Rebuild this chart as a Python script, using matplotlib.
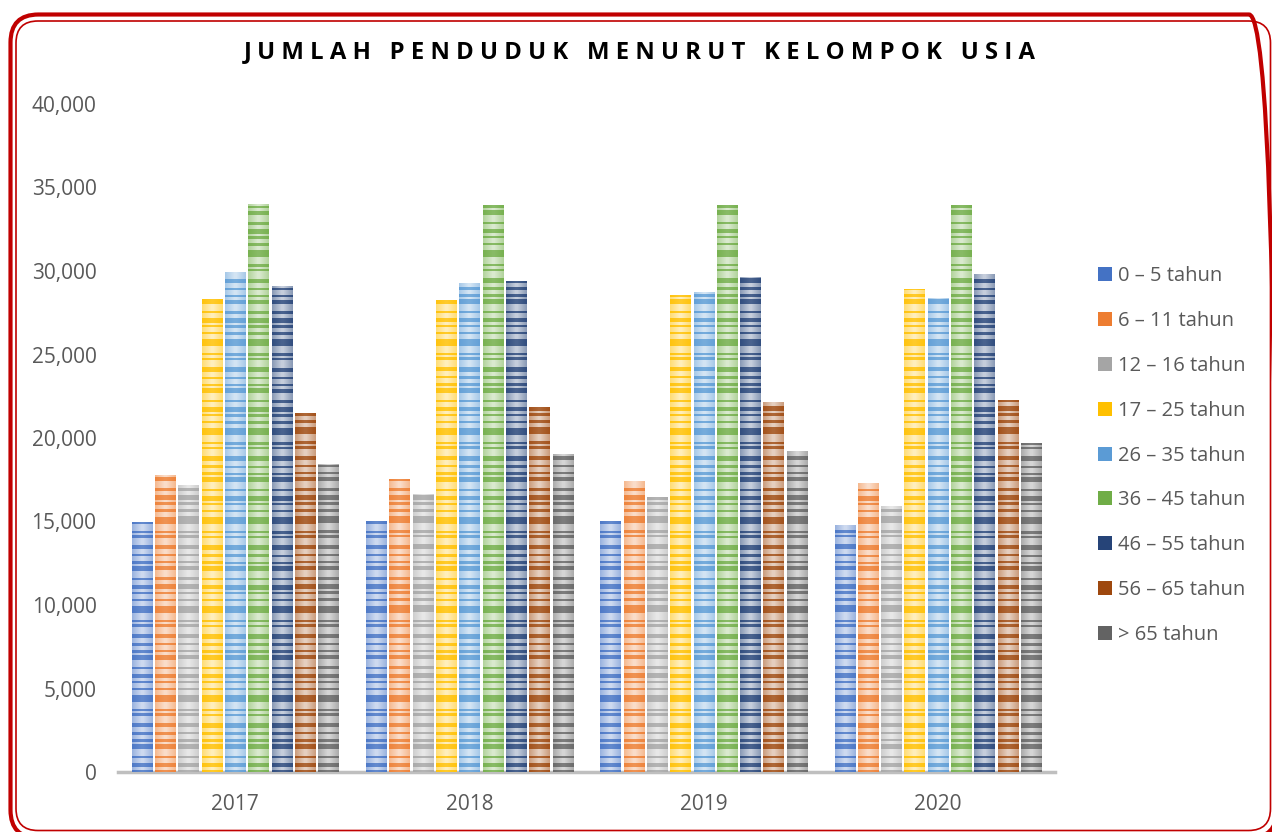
import numpy as np
import matplotlib
matplotlib.use("Agg")
import matplotlib.pyplot as plt
from matplotlib.patches import FancyBboxPatch, Patch
from matplotlib.colors import to_rgb
from matplotlib.transforms import IdentityTransform

years = ["2017", "2018", "2019", "2020"]
groups = ["0 – 5 tahun", "6 – 11 tahun", "12 – 16 tahun", "17 – 25 tahun",
          "26 – 35 tahun", "36 – 45 tahun", "46 – 55 tahun", "56 – 65 tahun",
          "> 65 tahun"]
v_0_5   = [15000, 15050, 15050, 14800]
v_6_11  = [17800, 17550, 17430, 17300]
v_12_16 = [17200, 16650, 16470, 15930]
v_17_25 = [28300, 28270, 28570, 28930]
v_26_35 = [29930, 29290, 28750, 28390]
v_36_45 = [34000, 33960, 33960, 33960]
v_46_55 = [29100, 29410, 29650, 29810]
v_56_65 = [21500, 21860, 22160, 22280]
v_65p   = [18450, 19050, 19230, 19700]
series = [v_0_5, v_6_11, v_12_16, v_17_25, v_26_35, v_36_45, v_46_55, v_56_65, v_65p]
colors = ["#4472C4", "#ED7D31", "#A5A5A5", "#FFC000", "#5B9BD5",
          "#70AD47", "#264478", "#9E480E", "#636363"]

plt.rcParams['font.family'] = ['Open Sans', 'DejaVu Sans']

W, H = 1272, 832
fig = plt.figure(figsize=(W/100, H/100), dpi=100)
ax = fig.add_axes([118/W, 1-772/H, (1055-118)/W, (772-104)/H])

n = len(series)
step = 0.0995
width = 0.086
unit = 140.0
pattern = np.array([1,0,1,1,0,0,1,0,0,0,1,1,0,1,0,0,1,0,0,1,1,0,0,0,1,0,1,0,0,0,1,1,1,0,0,1,0,0], dtype=float)

def texture(color, h):
    base = np.array(to_rgb(color))
    white = np.ones(3)
    rows = max(int(np.ceil(h/unit)), 1)
    cols = 20
    u = (np.arange(cols)+0.5)/cols
    center = 1 - np.abs(2*u-1)
    img = np.zeros((rows, cols, 3))
    for r in range(rows):
        s = pattern[r % len(pattern)]
        for c in range(cols):
            if s:
                f = 0.05 + 0.12*center[c]
            else:
                f = 0.45 + 0.3*center[c]
            img[r, c] = base*(1-f) + white*f
    return img, rows*unit

for i, (vals, col) in enumerate(zip(series, colors)):
    offs = (i - (n-1)/2)*step
    for j, v in enumerate(vals):
        x0 = j + offs - width/2
        bars = ax.bar(j + offs, v, width=width, color=col, linewidth=0, zorder=2)
        img, Hh = texture(col, v)
        im = ax.imshow(img, extent=[x0, x0+width, 0, Hh], origin='lower',
                       aspect='auto', interpolation='nearest', zorder=3)
        im.set_clip_path(bars[0])

ax.set_xlim(-0.5, 3.5)
ax.set_ylim(0, 40000)
ax.set_xticks(range(len(years)))
ax.set_xticklabels(years)
ax.set_yticks(np.arange(0, 40001, 5000))
ax.set_yticklabels([f"{t:,}" for t in range(0, 40001, 5000)])
ax.tick_params(axis='both', length=0, colors='#595959', labelsize=15)
ax.tick_params(axis='x', pad=16)
ax.tick_params(axis='y', pad=15.5)
for s in ['top', 'right', 'left']:
    ax.spines[s].set_visible(False)
ax.spines['bottom'].set_color('#BFBFBF')
ax.spines['bottom'].set_linewidth(2.5)
ax.set_facecolor('none')

handles = [Patch(facecolor=c, edgecolor='none') for c in colors]
fig.legend(handles, groups, loc='upper left', bbox_to_anchor=(1080/W, 1-248/H),
           frameon=False, fontsize=14.5, labelcolor='#595959',
           handlelength=0.7, handleheight=0.7, handletextpad=0.3,
           labelspacing=1.235)

title = "JUMLAH PENDUDUK MENURUT KELOMPOK USIA"
spaced = "   ".join(" ".join(w) for w in title.split(" "))
fig.text(640/W, 1-52/H, spaced, ha='center', va='center',
         fontsize=17.2, fontweight='bold', color='black')

# red double border (pixel coordinates, origin bottom-left)
def rbox(x0, ytop, x1, ybot, r, lw):
    return FancyBboxPatch((x0, H-ybot), x1-x0, ybot-ytop,
                          boxstyle=f"round,pad=0,rounding_size={r}",
                          transform=IdentityTransform(), facecolor='none',
                          edgecolor='#C00000', linewidth=lw, zorder=10)
fig.patches.extend([rbox(10.5, 14.5, 1277, 838, 28, 3.0),
                    rbox(16, 21, 1270.5, 830.5, 22, 1.2)])

fig.savefig("out.png", dpi=100)
